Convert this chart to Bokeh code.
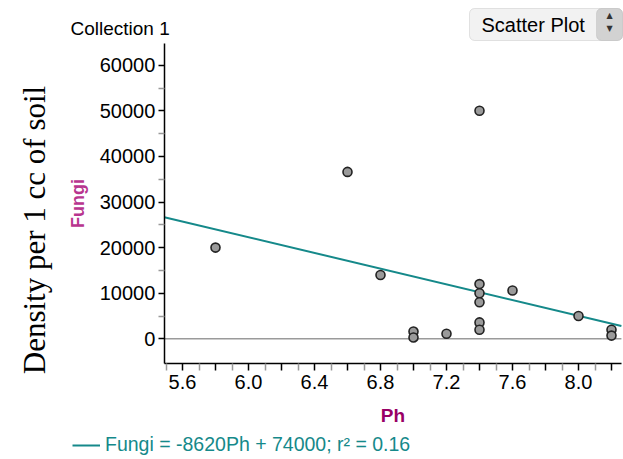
import math
from bokeh.plotting import figure
from bokeh.models import (FixedTicker, Label, BoxAnnotation, Legend, LegendItem,
                          ColumnDataSource, Range1d)
from bokeh.embed import file_html
from bokeh.resources import INLINE

# ---- data ----
ph = [5.8, 6.6, 6.8, 7.0, 7.0, 7.2, 7.4, 7.4, 7.4, 7.4, 7.4, 7.4, 7.6, 8.0, 8.2, 8.2]
fungi = [20000, 36600, 14000, 1600, 300, 1100, 50000, 12000, 10000, 8000, 3600, 2000,
         10600, 5000, 2000, 700]
slope = -8620
intercept = 74000
r_squared = 0.16

x_major = [5.6, 5.8, 6.0, 6.2, 6.4, 6.6, 6.8, 7.0, 7.2, 7.4, 7.6, 7.8, 8.0, 8.2]
x_minor = [5.5, 5.7, 5.9, 6.1, 6.3, 6.5, 6.7, 6.9, 7.1, 7.3, 7.5, 7.7, 7.9, 8.1]
x_labels = ["5.6", "", "6.0", "", "6.4", "", "6.8", "", "7.2", "", "7.6", "", "8.0", ""]
y_major = [0, 10000, 20000, 30000, 40000, 50000, 60000]
y_minor = [5000, 15000, 25000, 35000, 45000, 55000]
y_labels = ["0", "10000", "20000", "30000", "40000", "50000", "60000"]

# plotted (axis) extent
X_LO, X_HI = 5.49, 8.26
Y_LO, Y_HI = -5400, 64750

FONT = "Liberation Sans"
TEAL = "#15898A"
W, H = 623, 459

# The frame covers the whole canvas so the surrounding texts are not clipped;
# the axes are pinned at the edges of the plotted extent.
PX_PER_X = 165.0          # pixels per pH unit
PX_PER_Y = 45.6 / 10000   # pixels per fungi unit
X0_PX, Y0_PX = 182.0, 338.3  # page position of pH 5.6 and of fungi 0
x_view = (5.6 - X0_PX / PX_PER_X, 5.6 + (W - X0_PX) / PX_PER_X)
y_view = (-(H - Y0_PX) / PX_PER_Y, Y0_PX / PX_PER_Y)

p = figure(width=W, height=H, output_backend="svg", toolbar_location=None,
           x_range=Range1d(*x_view), y_range=Range1d(*y_view),
           min_border=0, min_border_left=0, min_border_right=0,
           min_border_top=0, min_border_bottom=0)
p.outline_line_color = None
p.xgrid.visible = False
p.ygrid.visible = False
p.title.visible = False

for ax in (p.xaxis[0], p.yaxis[0]):
    ax.axis_line_color = "black"
    ax.axis_line_width = 1.5
    ax.major_tick_line_color = "black"
    ax.major_tick_line_width = 1.5
    ax.minor_tick_line_color = "#999999"
    ax.minor_tick_line_width = 1.5
    ax.major_tick_in = 0
    ax.minor_tick_in = 0
    ax.major_label_text_font = FONT
    ax.major_label_text_font_size = "20px"
    ax.major_label_text_color = "black"
    ax.axis_label_text_font = FONT
    ax.axis_label_text_font_style = "bold"

p.xaxis.fixed_location = Y_LO
p.xaxis.bounds = (X_LO, X_HI)
p.xaxis.ticker = FixedTicker(ticks=x_major, minor_ticks=x_minor)
p.xaxis.major_label_overrides = {t: l for t, l in zip(x_major, x_labels)}
p.xaxis.major_tick_out = 7
p.xaxis.minor_tick_out = 7
p.xaxis.major_label_standoff = 5
p.xaxis.axis_label = "Ph"
p.xaxis.axis_label_text_color = "#990066"
p.xaxis.axis_label_text_font_size = "19px"
p.xaxis.axis_label_standoff = 12

p.yaxis.fixed_location = X_LO
p.yaxis.bounds = (Y_LO, Y_HI)
p.yaxis.ticker = FixedTicker(ticks=y_major, minor_ticks=y_minor)
p.yaxis.major_label_overrides = {t: l for t, l in zip(y_major, y_labels)}
p.yaxis.major_tick_out = 6
p.yaxis.minor_tick_out = 6
p.yaxis.major_label_standoff = 3
p.yaxis.axis_label = "Fungi"
p.yaxis.axis_label_text_color = "#B8358F"
p.yaxis.axis_label_text_font_size = "18px"
p.yaxis.axis_label_standoff = 9

# zero line across the plotted extent
p.segment(x0=[X_LO], x1=[X_HI], y0=[0], y1=[0], line_color="#9a9a9a", line_width=1.5)

# regression line
line_src = ColumnDataSource(dict(x=[X_LO, X_HI],
                                 y=[slope * X_LO + intercept, slope * X_HI + intercept]))
reg = p.line("x", "y", source=line_src, line_color=TEAL, line_width=2)

# points
p.scatter(ph, fungi, size=9, fill_color="#9a9a9a", line_color="#222222", line_width=1.6)

# legend
legend = Legend(items=[LegendItem(label=f"Fungi = {slope}Ph + {intercept}; r\u00b2 = {r_squared}",
                                  renderers=[reg])],
                location=(72, 3), padding=0, margin=0, spacing=0,
                border_line_color=None, background_fill_alpha=0,
                glyph_width=28, glyph_height=22, label_height=22, label_standoff=5,
                label_text_font=FONT, label_text_font_size="19.5px", label_text_color=TEAL)
p.add_layout(legend)

# other texts (screen units: from the bottom-left of the canvas)
p.add_layout(Label(x=70, y=431, x_units="screen", y_units="screen", text="Collection 1",
                   text_font=FONT, text_font_size="19px", text_color="black",
                   text_baseline="alphabetic"))
p.add_layout(Label(x=33.5, y=229.5, x_units="screen", y_units="screen",
                   text="Density per 1 cc of soil", angle=math.pi / 2,
                   text_font="Liberation Serif", text_font_size="31px", text_color="black",
                   text_align="center", text_baseline="middle"))

# "Scatter Plot" selector
p.add_layout(BoxAnnotation(left=469, right=622, bottom=419, top=451,
                           left_units="screen", right_units="screen",
                           bottom_units="screen", top_units="screen",
                           fill_color="#f2f2f2", fill_alpha=1, line_color="#a8a8a8",
                           line_width=1, border_radius=5))
p.add_layout(BoxAnnotation(left=596, right=622, bottom=419, top=451,
                           left_units="screen", right_units="screen",
                           bottom_units="screen", top_units="screen",
                           fill_color="#d2d2d2", fill_alpha=1, line_color="#a8a8a8",
                           line_width=1, border_radius=5))
p.add_layout(Label(x=481, y=435, x_units="screen", y_units="screen", text="Scatter Plot",
                   text_font=FONT, text_font_size="20px", text_color="black",
                   text_baseline="alphabetic"))
p.add_layout(Label(x=609, y=444, x_units="screen", y_units="screen", text="\u25b2",
                   text_font="DejaVu Sans", text_font_size="8px", text_color="#333333",
                   text_align="center", text_baseline="middle"))
p.add_layout(Label(x=609, y=431, x_units="screen", y_units="screen", text="\u25bc",
                   text_font="DejaVu Sans", text_font_size="8px", text_color="#333333",
                   text_align="center", text_baseline="middle"))

open("out.html", "w").write(file_html(p, INLINE))
